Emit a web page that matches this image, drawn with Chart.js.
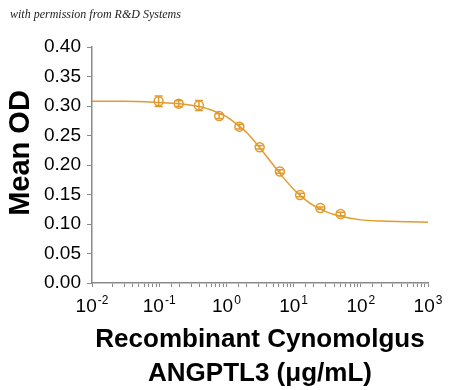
<!DOCTYPE html>
<html>
<head>
<meta charset="utf-8">
<script src="https://cdn.jsdelivr.net/npm/chart.js@4.4.1/dist/chart.umd.min.js"></script>
<style>
  body { margin: 0; background: #fff; }
  #wrap { position: relative; width: 450px; height: 390px; }
  #note { position: absolute; left: 10px; top: 7px; font: italic 12px "Liberation Serif", serif; color: #222; }
</style>
</head>
<body>
<div id="wrap">
  <div id="note">with permission from R&amp;D Systems</div>
  <canvas id="c" width="450" height="390"></canvas>
</div>
<script>
// measured points (2-fold dilution series)
const conc = [0.098, 0.195, 0.39, 0.78, 1.56, 3.125, 6.25, 12.5, 25, 50];
const meanOD = [0.308, 0.304, 0.301, 0.283, 0.265, 0.230, 0.189, 0.149, 0.127, 0.117];
const errOD = [0.009, 0.005, 0.0085, 0.004, 0.004, 0.003, 0.003, 0.003, 0.002, 0.003];

// fitted curve
const fitX = [0.01, 0.03, 0.1, 0.2, 0.4, 0.7, 1, 1.5, 2, 3, 4, 5, 7, 10, 15, 20, 30, 50, 100, 200, 500, 1000];
const fitY = [0.308, 0.308, 0.306, 0.304, 0.299, 0.290, 0.282, 0.267, 0.255, 0.232, 0.214, 0.200, 0.179, 0.159, 0.141, 0.131, 0.121, 0.113, 0.107, 0.105, 0.104, 0.103];

// x tick labels: 10 with a superscript exponent
const xTickValues = [0.01, 0.1, 1, 10, 100, 1000];
const xTickExps = ['-2', '-1', '0', '1', '2', '3'];
const yTicks = [0, 0.05, 0.1, 0.15, 0.2, 0.25, 0.3, 0.35, 0.4];

const xTitle = ['Recombinant Cynomolgus', 'ANGPTL3 (\u03bcg/mL)'];
const yTitle = 'Mean OD';

const orange = '#E39A2D';
const axisGrey = '#8a8a8a';
const FONT = '"Liberation Sans", Arial, sans-serif';

// error bars drawn through the chart's own scales
const errorBars = {
  id: 'errorBars',
  afterDatasetsDraw(chart) {
    const { ctx, scales: { x, y } } = chart;
    ctx.save();
    ctx.strokeStyle = orange;
    ctx.lineWidth = 1.5;
    conc.forEach((c, i) => {
      const px = x.getPixelForValue(c);
      const top = y.getPixelForValue(meanOD[i] + errOD[i]);
      const bot = y.getPixelForValue(meanOD[i] - errOD[i]);
      ctx.beginPath();
      ctx.moveTo(px, top); ctx.lineTo(px, bot);
      ctx.moveTo(px - 4, top); ctx.lineTo(px + 4, top);
      ctx.moveTo(px - 4, bot); ctx.lineTo(px + 4, bot);
      ctx.stroke();
    });
    ctx.restore();
  }
};

// power-of-ten tick labels and axis titles
const labels = {
  id: 'labels',
  afterDraw(chart) {
    const { ctx, chartArea: a, scales: { x } } = chart;
    ctx.save();
    ctx.fillStyle = '#000';
    ctx.textBaseline = 'alphabetic';
    ctx.textAlign = 'left';
    xTickValues.forEach((v, i) => {
      const px = x.getPixelForValue(v);
      ctx.font = '19px ' + FONT;
      const w1 = ctx.measureText('10').width;
      ctx.font = '12px ' + FONT;
      const w2 = ctx.measureText(xTickExps[i]).width;
      const start = px - (w1 + w2 + 1) / 2;
      ctx.font = '19px ' + FONT;
      ctx.fillText('10', start, a.bottom + 29);
      ctx.font = '12px ' + FONT;
      ctx.fillText(xTickExps[i], start + w1 + 1, a.bottom + 21);
    });

    ctx.textAlign = 'center';
    ctx.textBaseline = 'middle';
    ctx.font = 'bold 26px ' + FONT;
    const cx = (a.left + a.right) / 2;
    ctx.fillText(xTitle[0], cx, a.bottom + 57);
    ctx.fillText(xTitle[1], cx, a.bottom + 91);

    ctx.translate(21, (a.top + a.bottom) / 2 - 12);
    ctx.rotate(-Math.PI / 2);
    ctx.font = 'bold 29px ' + FONT;
    ctx.fillText(yTitle, 0, 0);
    ctx.restore();
  }
};

new Chart(document.getElementById('c'), {
  type: 'scatter',
  data: {
    datasets: [
      {
        type: 'line',
        data: fitX.map((v, i) => ({ x: v, y: fitY[i] })),
        borderColor: orange,
        borderWidth: 1.5,
        pointRadius: 0,
        cubicInterpolationMode: 'monotone',
        fill: false
      },
      {
        data: conc.map((v, i) => ({ x: v, y: meanOD[i] })),
        borderColor: orange,
        backgroundColor: 'rgba(255,255,255,0)',
        borderWidth: 1.5,
        pointRadius: 4.5
      }
    ]
  },
  options: {
    responsive: false,
    animation: false,
    layout: { padding: { top: 47, right: 22, left: 0, bottom: 0 } },
    plugins: { legend: { display: false }, tooltip: { enabled: false } },
    scales: {
      x: {
        type: 'logarithmic',
        min: 0.01,
        max: 1000,
        border: { color: axisGrey, width: 1.5 },
        grid: { drawOnChartArea: false, tickLength: 4, color: axisGrey },
        ticks: { autoSkip: false, maxRotation: 0, callback: () => '' },
        afterFit: s => { s.height = 107; }
      },
      y: {
        min: 0,
        max: 0.4,
        afterBuildTicks: s => { s.ticks = yTicks.map(v => ({ value: v })); },
        border: { color: axisGrey, width: 1.5 },
        grid: { drawOnChartArea: false, tickLength: 5, color: axisGrey },
        ticks: {
          padding: 6,
          color: '#000',
          font: { family: FONT, size: 19 },
          callback: v => v.toFixed(2)
        },
        afterFit: s => { s.width = 92; }
      }
    }
  },
  plugins: [errorBars, labels]
});
</script>
</body>
</html>
